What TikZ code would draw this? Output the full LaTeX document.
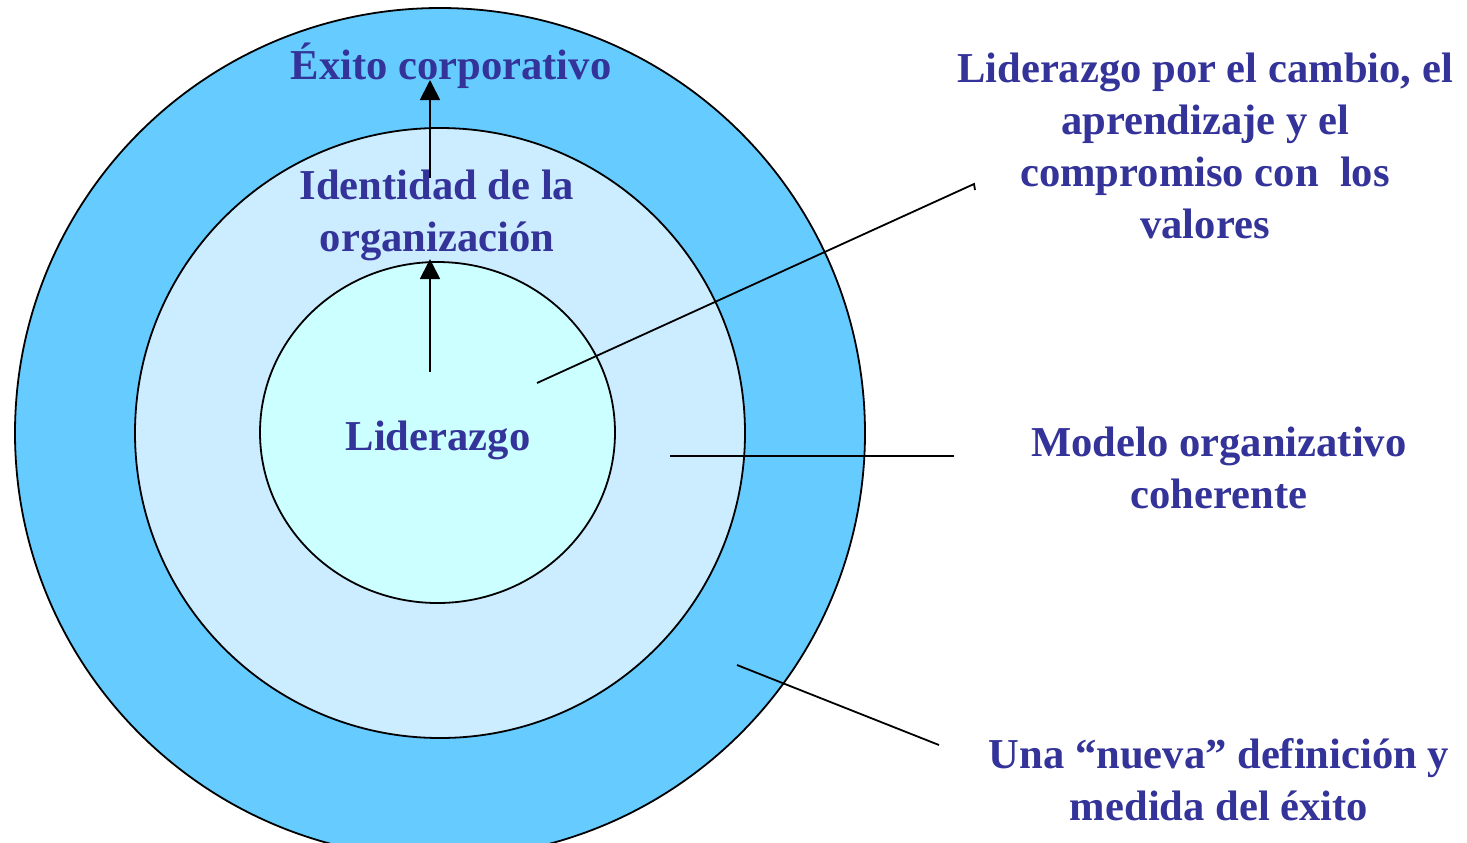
\documentclass[tikz,border=0pt]{standalone}
\usepackage{fontspec}
\setmainfont{Liberation Serif}
\usetikzlibrary{arrows.meta}
\definecolor{ringout}{HTML}{66CCFF}
\definecolor{ringmid}{HTML}{CCECFF}
\definecolor{ringin}{HTML}{CCFFFF}
\definecolor{txtblue}{HTML}{333399}
\tikzset{
  lbl/.style={text=txtblue, font=\fontsize{21.3}{26}\selectfont\bfseries, align=center, inner sep=0pt},
  ring/.style={draw=black, line width=0.9pt},
  lead/.style={draw=black, line width=0.9pt},
  upar/.style={draw=black, line width=0.9pt, -{Triangle[length=10pt,width=10pt]}}
}
\begin{document}
\begin{tikzpicture}[x=0.5pt,y=-0.5pt]
\useasboundingbox (0,0) rectangle (1467,842);
\begin{scope}
\clip (0,0) rectangle (1467,842);
\fill[white] (0,0) rectangle (1467,842);
\draw[ring, fill=ringout] (440,433) circle (425);
\draw[ring, fill=ringmid] (440,433) circle (305);
\draw[ring, fill=ringin] (437.5,432.5) ellipse (177.5 and 170.5);
\end{scope}
% labels (anchor=base is the baseline of the last line)
\node[lbl, anchor=base] (exito) at (451,79) {Éxito corporativo};
\node[lbl, anchor=base] (ident) at (437,251) {Identidad de la\\organización};
\node[lbl, anchor=base] (lider) at (438,450) {Liderazgo};
\node[lbl, anchor=base] (lcambio) at (1205,238) {Liderazgo por el cambio, el\\aprendizaje y el\\compromiso con\ \ los\\valores};
\node[lbl, anchor=base] (modelo) at (1219,508) {Modelo organizativo\\coherente};
\node[lbl, anchor=base] (nueva) at (1219,820) {Una “nueva” definición y\\medida del éxito};
% arrows
\coordinate (a1s) at (430,372);
\coordinate (a1e) at (430,259);
\coordinate (a2s) at (430,178);
\coordinate (a2e) at (430,80);
\draw[upar] (a1s) -- (a1e);
\draw[upar] (a2s) -- (a2e);
% leader lines
\coordinate (l1s) at (537,383);
\coordinate (l1e) at (974,184);
\coordinate (l1t) at (975,190);
\draw[lead] (l1s) -- (l1e) -- (l1t);
\coordinate (l2s) at (670,456);
\coordinate (l2e) at (954,456);
\draw[lead] (l2s) -- (l2e);
\coordinate (l3s) at (737,665);
\coordinate (l3e) at (939,745);
\draw[lead] (l3s) -- (l3e);
\end{tikzpicture}
\end{document}
